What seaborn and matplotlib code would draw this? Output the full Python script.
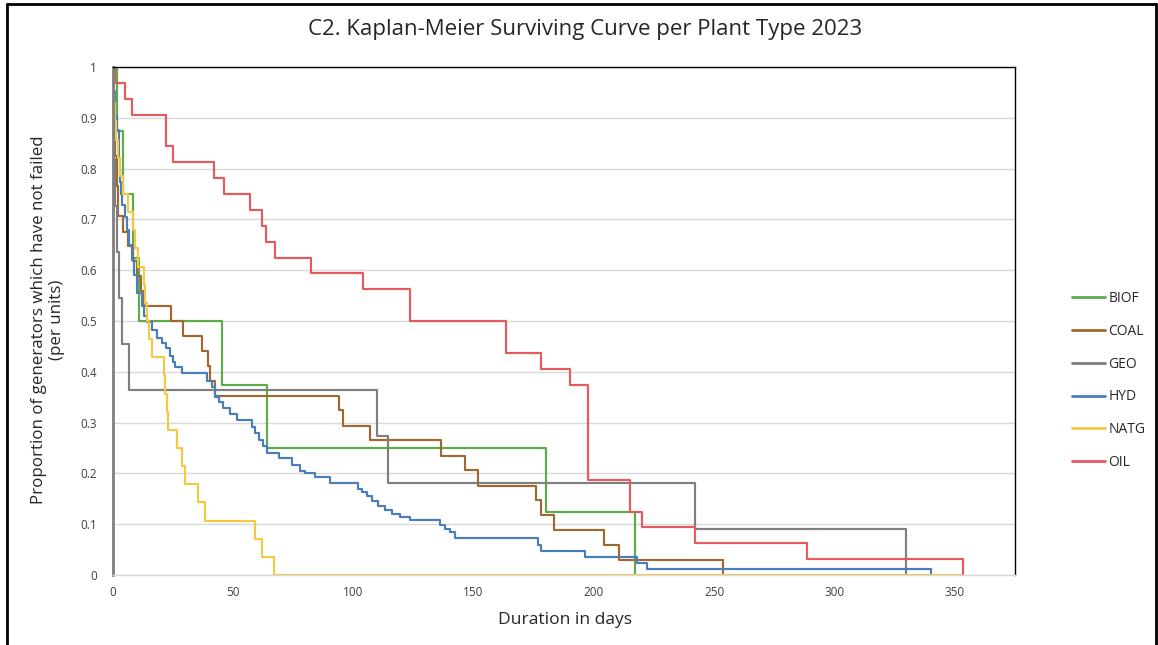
import numpy as np
import pandas as pd
import matplotlib
matplotlib.use("Agg")
import matplotlib.pyplot as plt
import seaborn as sns
from matplotlib.lines import Line2D

# ---------------- data (days, survival proportion) ----------------
biof_days = [0, 2.0, 4.2, 8.5, 11.1, 45.4, 64.1, 180.1, 217.0]
biof_surv = [1, 0.875, 0.75, 0.625, 0.5, 0.375, 0.25, 0.125, 0.0]

coal_days = [0, 0.3, 0.7, 1.2, 1.8, 2.4, 4.5, 6.3, 8.6, 10.0, 11.9, 13.2, 24.3, 29.2, 37.1,
             39.5, 40.5, 42.6, 94.3, 95.6, 107.1, 136.6, 146.6, 152.0, 176.1, 178.0, 183.3,
             204.4, 210.3, 253.7]
coal_surv = [1, 0.941, 0.882, 0.824, 0.765, 0.706, 0.676, 0.647, 0.618, 0.588, 0.559, 0.529,
             0.5, 0.471, 0.441, 0.412, 0.382, 0.353, 0.324, 0.294, 0.265, 0.235, 0.206, 0.176,
             0.147, 0.118, 0.088, 0.059, 0.029, 0.0]

geo_days = [0, 0.4, 0.8, 1.2, 1.8, 2.6, 3.8, 7.0, 110.1, 114.3, 242.2, 329.6]
geo_surv = [1, 0.909, 0.818, 0.727, 0.636, 0.545, 0.455, 0.364, 0.273, 0.182, 0.091, 0.0]

hyd_days = [0, 0.4, 0.9, 1.7, 2.5, 3.0, 3.5, 4.0, 5.1, 6.0, 7.0, 8.0, 9.0, 10.0, 12.2, 13.2,
            14.2, 16.3, 18.4, 20.5, 22.3, 24.0, 25.0, 26.0, 28.8, 39.2, 41.4, 42.6, 44.3, 46.1,
            49.0, 51.7, 58.0, 59.3, 61.0, 62.5, 64.1, 69.0, 74.5, 78.0, 80.0, 84.2, 90.4,
            102.1, 103.7, 105.8, 107.9, 110.4, 113.3, 116.2, 119.5, 123.7, 136.2, 138.3,
            140.3, 142.4, 176.9, 178.2, 196.5, 218.0, 222.1, 339.9]
hyd_surv = [1, 0.952, 0.905, 0.876, 0.82, 0.774, 0.75, 0.728, 0.705, 0.68, 0.65, 0.62, 0.59,
            0.556, 0.53, 0.51, 0.498, 0.482, 0.466, 0.456, 0.446, 0.431, 0.42, 0.41, 0.397,
            0.381, 0.371, 0.351, 0.34, 0.328, 0.317, 0.305, 0.292, 0.279, 0.266, 0.253, 0.24,
            0.23, 0.217, 0.205, 0.2, 0.193, 0.181, 0.17, 0.163, 0.155, 0.145, 0.135, 0.127,
            0.12, 0.114, 0.108, 0.098, 0.091, 0.084, 0.072, 0.06, 0.048, 0.036, 0.024, 0.012,
            0.0]

natg_days = [0, 0.5, 1.0, 1.5, 2.2, 3.0, 4.5, 6.6, 8.5, 9.5, 10.7, 13.2, 13.7, 14.2, 15.2,
             16.3, 21.5, 22.0, 22.5, 23.0, 26.7, 28.8, 30.1, 35.7, 38.5, 59.3, 62.3, 67.2, 353.2]
natg_surv = [1, 0.929, 0.893, 0.857, 0.821, 0.786, 0.75, 0.714, 0.679, 0.643, 0.607, 0.571,
             0.536, 0.5, 0.464, 0.429, 0.393, 0.357, 0.321, 0.286, 0.25, 0.214, 0.179, 0.143,
             0.107, 0.071, 0.036, 0.0, 0.0]

oil_days = [0, 1.0, 5.2, 8.0, 22.1, 25.0, 42.2, 46.4, 57.2, 62.2, 63.7, 67.6, 82.4, 104.2,
            123.7, 163.5, 178.2, 190.2, 197.6, 215.2, 220.0, 242.2, 288.4, 353.2]
oil_surv = [1, 0.969, 0.9375, 0.906, 0.844, 0.8125, 0.781, 0.75, 0.719, 0.6875, 0.656, 0.625,
            0.594, 0.5625, 0.5, 0.4375, 0.406, 0.375, 0.1875, 0.125, 0.094, 0.0625, 0.031, 0.0]

plant_types = ["BIOF", "COAL", "GEO", "HYD", "NATG", "OIL"]
colors = ["#5cad4a", "#a0672f", "#7f7f7f", "#4a7ebb", "#f5c842", "#e8585c"]

series = {
    "BIOF": (biof_days, biof_surv),
    "COAL": (coal_days, coal_surv),
    "GEO": (geo_days, geo_surv),
    "HYD": (hyd_days, hyd_surv),
    "NATG": (natg_days, natg_surv),
    "OIL": (oil_days, oil_surv),
}

frames = []
for name in plant_types:
    d, s = series[name]
    frames.append(pd.DataFrame({"days": d, "surv": s, "type": name}))
df = pd.concat(frames, ignore_index=True)

# ---------------- figure ----------------
sns.set_theme(style="white")
plt.rcParams["font.family"] = ["Open Sans", "DejaVu Sans"]

W, H = 1158, 645
fig = plt.figure(figsize=(W / 100, H / 100), dpi=100)
ax = fig.add_axes([112.5 / W, 1 - 575 / H, (1015 - 112.5) / W, (575 - 67) / H])

for name, col in zip(plant_types, colors):
    sub = df[df["type"] == name]
    sns.lineplot(data=sub, x="days", y="surv", ax=ax, color=col, linewidth=1.55,
                 drawstyle="steps-post", estimator=None, sort=False, legend=False)

ax.set_xlim(0, 375)
ax.set_ylim(0, 1)
ax.set_xticks(np.arange(0, 351, 50))
ax.set_yticks(np.round(np.arange(0, 1.01, 0.1), 1))
ax.set_yticklabels(["0", "0.1", "0.2", "0.3", "0.4", "0.5", "0.6", "0.7", "0.8", "0.9", "1"])
ax.tick_params(axis="both", length=0, labelsize=8.5, labelcolor="#404040")
ax.tick_params(axis="y", pad=11)
ax.tick_params(axis="x", pad=8)
ax.set_xlabel("")
ax.set_ylabel("")
ax.grid(axis="y", color="#d9d9d9", linewidth=1.0)
ax.grid(axis="x", visible=False)
ax.set_axisbelow(True)

for side in ["top", "right"]:
    ax.spines[side].set_color("#000000")
    ax.spines[side].set_linewidth(1.0)
ax.spines["left"].set_color("#7f7f7f")
ax.spines["left"].set_linewidth(2.0)
ax.spines["bottom"].set_color("#d9d9d9")
ax.spines["bottom"].set_linewidth(1.0)

# titles
fig.text(585 / W, 1 - 30 / H, "C2. Kaplan-Meier Surviving Curve per Plant Type 2023",
         ha="center", va="center", fontsize=16, color="#262626")
fig.text(565 / W, 1 - 620 / H, "Duration in days", ha="center", va="center",
         fontsize=12.6, color="#262626")
fig.text(48 / W, 1 - 320 / H, "Proportion of generators which have not failed\n(per units)",
         ha="center", va="center", rotation=90, fontsize=12.2, color="#262626",
         multialignment="center", linespacing=1.2)

# legend
handles = [Line2D([0], [0], color=c, linewidth=2.0) for c in colors]
fig.legend(handles, plant_types, loc="center left", bbox_to_anchor=(1059 / W, 1 - 380.5 / H),
           frameon=False, fontsize=10, handlelength=2.4, handletextpad=0.25,
           labelspacing=1.28, labelcolor="#262626")

# outer border
fig.add_artist(Line2D([7 / W, 7 / W], [0, 1 - 4 / H], transform=fig.transFigure,
                      color="black", linewidth=2.0))
fig.add_artist(Line2D([7 / W, 1156 / W], [1 - 4 / H, 1 - 4 / H], transform=fig.transFigure,
                      color="black", linewidth=2.0))
fig.add_artist(Line2D([1156 / W, 1156 / W], [0, 1 - 4 / H], transform=fig.transFigure,
                      color="black", linewidth=2.0))

fig.savefig("out.png", dpi=100)
